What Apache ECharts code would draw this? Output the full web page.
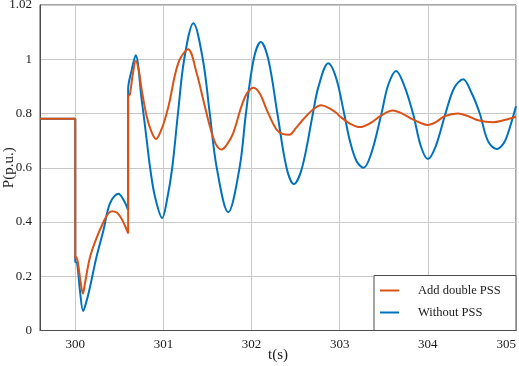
<!DOCTYPE html>
<html>
<head>
<meta charset="utf-8">
<script src="https://cdn.jsdelivr.net/npm/echarts@6/dist/echarts.min.js"></script>
<style>
  html, body { margin: 0; padding: 0; background: #fff; }
  #chart { width: 519px; height: 366px; }
</style>
</head>
<body>
<div id="chart"></div>
<script>
// time (s) and power (p.u.)
const tWithPSS = [299.6, 300.0, 300.0, 300.012, 300.03, 300.06, 300.087, 300.11, 300.167, 300.24, 300.32, 300.375, 300.42, 300.47, 300.51, 300.56, 300.6,
  300.6, 300.62, 300.65, 300.688, 300.72, 300.753, 300.81, 300.866, 300.915, 300.98, 301.036, 301.074, 301.13, 301.187, 301.28, 301.376, 301.451,
  301.527, 301.59, 301.66, 301.72, 301.792, 301.886, 301.95, 302.025, 302.1, 302.17, 302.283, 302.35, 302.43, 302.5, 302.585, 302.698, 302.79,
  302.88, 302.964, 303.0, 303.115, 303.23, 303.35, 303.46, 303.6, 303.72, 303.83, 303.92, 304.0, 304.09, 304.19, 304.34, 304.46, 304.57, 304.74,
  304.87, 305.0];
const pWithPSS = [0.781, 0.781, 0.268, 0.27, 0.25, 0.18, 0.136, 0.174, 0.27, 0.34, 0.40, 0.432, 0.44, 0.435, 0.42, 0.389, 0.358,
  0.864, 0.87, 0.94, 0.994, 0.96, 0.889, 0.79, 0.731, 0.706, 0.743, 0.80, 0.85, 0.94, 1.00, 1.037, 0.95, 0.852,
  0.753, 0.69, 0.667, 0.685, 0.728, 0.827, 0.875, 0.895, 0.87, 0.815, 0.741, 0.725, 0.722, 0.745, 0.778, 0.815, 0.83,
  0.82, 0.802, 0.79, 0.763, 0.75, 0.765, 0.79, 0.811, 0.798, 0.778, 0.765, 0.758, 0.768, 0.79, 0.80, 0.79, 0.775, 0.768,
  0.776, 0.788];

const tWithoutPSS = [299.6, 300.0, 300.0, 300.02, 300.053, 300.09, 300.13, 300.167, 300.2, 300.24, 300.32, 300.395, 300.49, 300.55, 300.6,
  300.6, 300.64, 300.685, 300.753, 300.81, 300.847, 300.904, 300.987, 301.04, 301.1, 301.165, 301.236, 301.34, 301.447, 301.526, 301.605,
  301.735, 301.864, 301.936, 302.024, 302.105, 302.19, 302.293, 302.397, 302.48, 302.573, 302.696, 302.76, 302.87, 302.96, 303.05, 303.115,
  303.19, 303.27, 303.36, 303.474, 303.55, 303.64, 303.73, 303.832, 303.92, 304.0, 304.09, 304.2, 304.3, 304.4, 304.49, 304.589, 304.68,
  304.78, 304.86, 304.91, 305.0];
const pWithoutPSS = [0.781, 0.781, 0.253, 0.25, 0.148, 0.072, 0.111, 0.16, 0.21, 0.27, 0.37, 0.47, 0.504, 0.48, 0.444,
  0.89, 0.96, 1.015, 0.852, 0.704, 0.605, 0.494, 0.415, 0.48, 0.60, 0.80, 1.00, 1.133, 1.00, 0.80, 0.60,
  0.436, 0.60, 0.80, 1.00, 1.064, 1.00, 0.80, 0.60, 0.54, 0.60, 0.80, 0.90, 0.985, 0.93, 0.80, 0.70,
  0.625, 0.60, 0.655, 0.80, 0.905, 0.957, 0.905, 0.80, 0.68, 0.632, 0.68, 0.80, 0.895, 0.926, 0.88, 0.80, 0.70,
  0.669, 0.69, 0.728, 0.827];

const xTicks = [300, 301, 302, 303, 304, 305];
const yTicks = [0, 0.2, 0.4, 0.6, 0.8, 1, 1.2];
const yTickLabels = ['0', '0.2', '0.4', '0.6', '0.8', '1', '1.02'];

const pairs = (t, p) => t.map((v, i) => [v, p[i]]);

const chart = echarts.init(document.getElementById('chart'));
const font = 'Liberation Serif';
const frameColor = '#4d4d4d';

chart.setOption({
  animation: false,
  grid: {
    left: 40, top: 5, width: 476, height: 325.5,
    containLabel: false, outerBoundsMode: 'none',
    show: true, borderColor: frameColor, borderWidth: 1
  },
  legend: {
    orient: 'vertical',
    left: 380, top: 284,
    icon: 'rect', itemWidth: 19, itemHeight: 2, itemGap: 9,
    padding: 0,
    data: ['Add double PSS', 'Without PSS'],
    textStyle: { fontFamily: font, fontSize: 12.5, color: '#1a1a1a', padding: [0, 0, 0, 14] }
  },
  graphic: [{
    type: 'rect', z: 3,
    shape: { x: 374, y: 275.5, width: 142, height: 55 },
    style: { fill: '#fff', stroke: frameColor, lineWidth: 1 }
  }],
  xAxis: {
    type: 'value',
    min: 299.6, max: 305,
    name: 't(s)', nameLocation: 'middle', nameGap: 17, nameMoveOverlap: false,
    nameTextStyle: { fontFamily: font, fontSize: 15, color: '#1a1a1a', verticalAlign: 'top' },
    axisLine: { lineStyle: { color: frameColor } },
    axisTick: { show: false, customValues: xTicks },
    axisLabel: { customValues: xTicks, margin: 8, alignMaxLabel: 'right', fontFamily: font, fontSize: 13, color: '#1a1a1a' },
    splitLine: { lineStyle: { color: '#c8c8c8' } }
  },
  yAxis: {
    type: 'value',
    min: 0, max: 1.2, interval: 0.2,
    name: 'P(p.u.)', nameLocation: 'middle', nameGap: 23, nameMoveOverlap: false,
    nameTextStyle: { fontFamily: font, fontSize: 15, color: '#1a1a1a' },
    axisLine: { show: true, lineStyle: { color: frameColor } },
    axisTick: { show: false },
    axisLabel: {
      margin: 8, fontFamily: font, fontSize: 13, color: '#1a1a1a',
      formatter: v => yTickLabels[yTicks.findIndex(y => Math.abs(y - v) < 1e-6)]
    },
    splitLine: { lineStyle: { color: '#c8c8c8' } }
  },
  series: [
    {
      name: 'Without PSS', type: 'line', z: 2,
      data: pairs(tWithoutPSS, pWithoutPSS),
      symbol: 'none', smooth: 0.35,
      color: '#0072BD',
      lineStyle: { width: 2 }
    },
    {
      name: 'Add double PSS', type: 'line', z: 3,
      data: pairs(tWithPSS, pWithPSS),
      symbol: 'none', smooth: 0.35,
      color: '#D95319',
      lineStyle: { width: 2 }
    }
  ]
});
</script>
</body>
</html>
